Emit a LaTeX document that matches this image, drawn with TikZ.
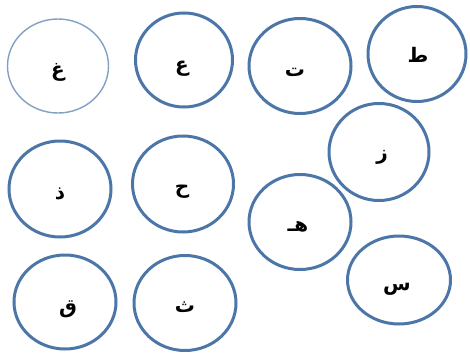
\documentclass[tikz,border=0pt]{standalone}
\usepackage{fontspec}
\usetikzlibrary{shapes.geometric}
\TeXXeTstate=1
\newfontfamily\arabicfont[Script=Arabic]{DejaVu Sans}
\definecolor{ringblue}{RGB}{76,118,168}
\definecolor{ringlight}{RGB}{130,160,195}
\begin{document}
\begin{tikzpicture}[x=1pt,y=-1pt,
  ring/.style={draw=ringblue, line width=3pt, ellipse, inner sep=0pt},
  thinring/.style={draw=ringlight, line width=1.4pt, ellipse, inner sep=0pt},
  letter/.style={font=\arabicfont\bfseries\fontsize{20}{24}\selectfont, inner sep=0pt}]
\useasboundingbox (0,0) rectangle (470,353);
% rings
\node[thinring, minimum width=101pt, minimum height=94pt] (cghain) at (58,66) {};
\node[ring, minimum width=97pt, minimum height=94pt] (cain) at (184,60) {};
\node[ring, minimum width=102pt, minimum height=95pt] (cta) at (300,66) {};
\node[ring, minimum width=98pt, minimum height=95pt] (ctah) at (417,54) {};
\node[ring, minimum width=100pt, minimum height=97pt] (czay) at (379,152) {};
\node[ring, minimum width=102pt, minimum height=96pt] (cdhal) at (60,189) {};
\node[ring, minimum width=101pt, minimum height=96pt] (cha) at (183,184) {};
\node[ring, minimum width=102pt, minimum height=95pt] (cheh) at (300,222) {};
\node[ring, minimum width=103pt, minimum height=88pt] (cseen) at (399,280) {};
\node[ring, minimum width=102pt, minimum height=94pt] (cqaf) at (65,302) {};
\node[ring, minimum width=102pt, minimum height=95pt] (ctha) at (185,303) {};
% letters
\node[letter] (lghain) at (58,72) {\beginR غ\endR};
\node[letter] (lain) at (182,69) {\beginR ع\endR};
\node[letter] (lta) at (295,72) {\beginR ت\endR};
\node[letter] (ltah) at (418,55) {\beginR ط\endR};
\node[letter] (lzay) at (382,157) {\beginR ز\endR};
\node[letter] (ldhal) at (60,194) {\beginR ذ\endR};
\node[letter] (lha) at (182,192) {\beginR ح\endR};
\node[letter] (lheh) at (298,227) {\beginR هـ\endR};
\node[letter] (lseen) at (397,289) {\beginR س\endR};
\node[letter] (lqaf) at (68,309) {\beginR ق\endR};
\node[letter] (ltha) at (185,307) {\beginR ث\endR};
\end{tikzpicture}
\end{document}
